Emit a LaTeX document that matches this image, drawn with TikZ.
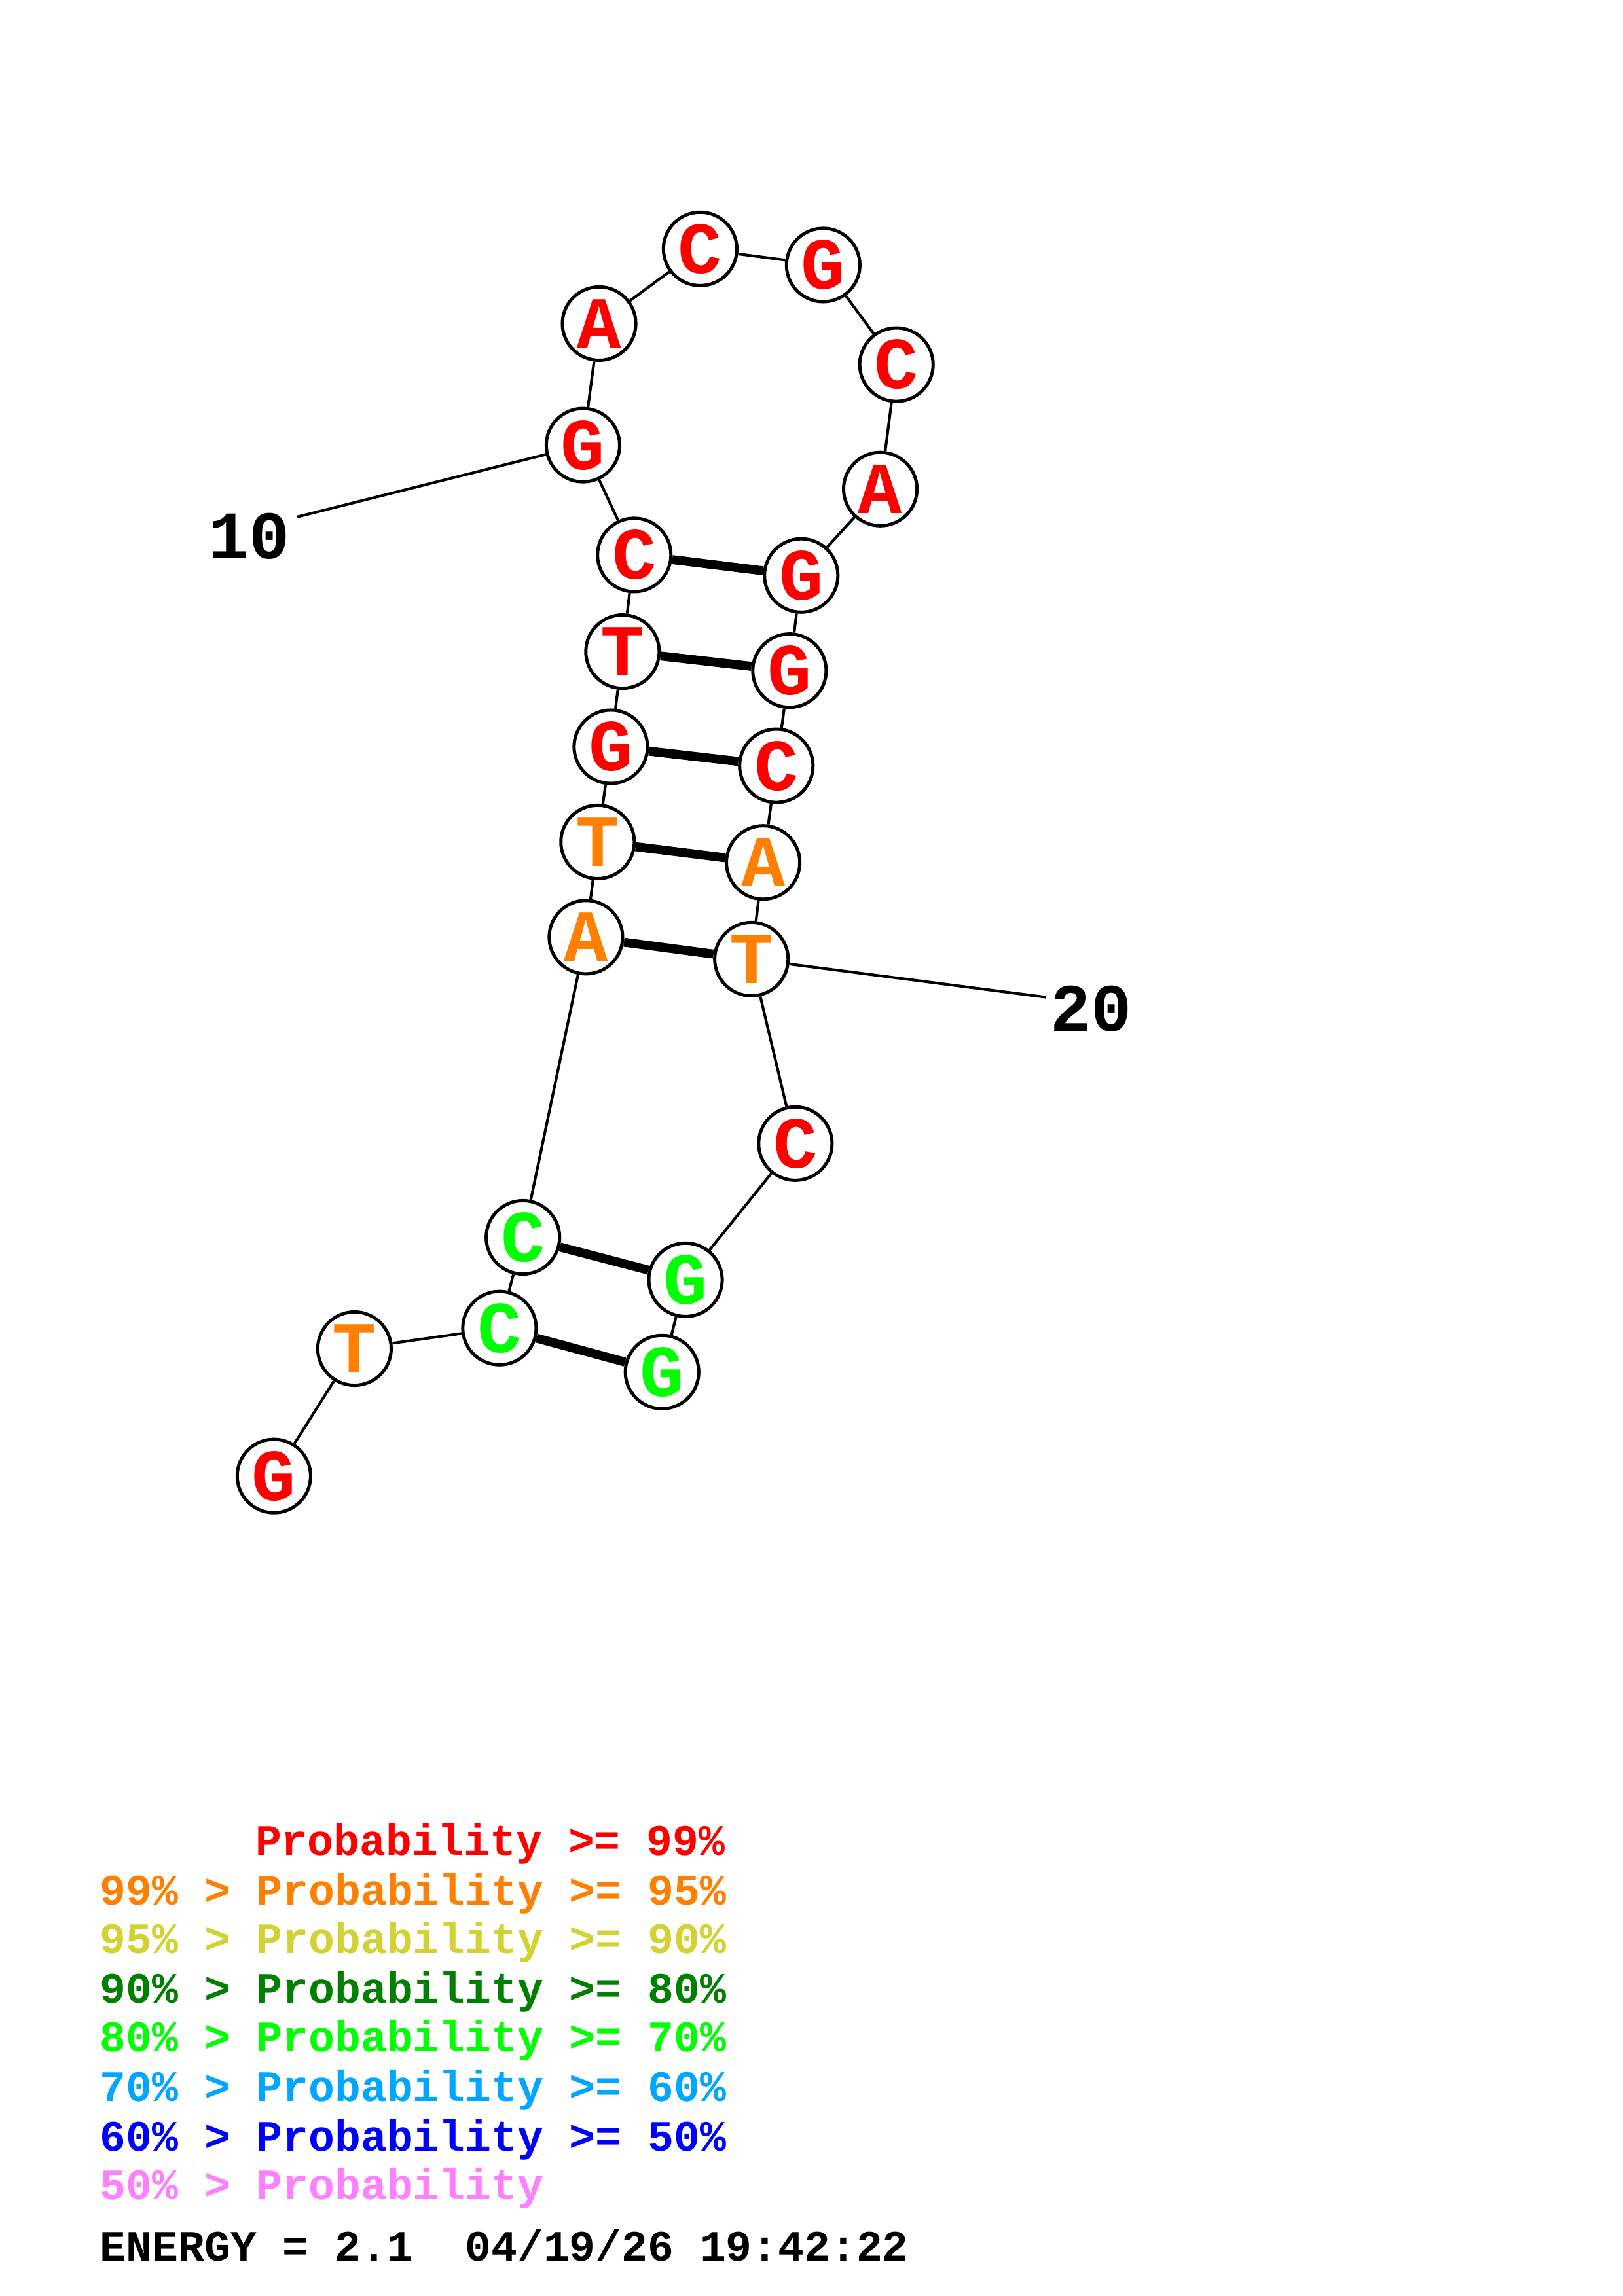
\documentclass[tikz,border=0pt]{standalone}
\usepackage{fontspec}
\setmonofont{Liberation Mono}
\usetikzlibrary{calc}

\definecolor{pred}{RGB}{255,0,0}
\definecolor{porange}{RGB}{255,128,0}
\definecolor{pyellow}{RGB}{210,210,50}
\definecolor{pdkgreen}{RGB}{0,128,0}
\definecolor{pgreen}{RGB}{0,255,0}
\definecolor{pltblue}{RGB}{0,166,255}
\definecolor{pblue}{RGB}{0,0,255}
\definecolor{ppink}{RGB}{255,128,255}

\begin{document}
\begin{tikzpicture}[x=0.018953cm, y=-0.018953cm,
		base/.style={circle, draw, line width=1.2pt, fill=white, minimum size=0.95cm, inner sep=0pt, font=\ttfamily\bfseries\fontsize{27}{27}\selectfont},
		bb/.style={line width=1pt},
		bp/.style={line width=3.3pt},
		idx/.style={inner sep=0pt, font=\ttfamily\bfseries\fontsize{25}{25}\selectfont},
		legend/.style={anchor=base west, inner sep=0pt, font=\ttfamily\bfseries\fontsize{16}{16}\selectfont}]
			\useasboundingbox (0,0) rectangle (1108,1568);

			% bases
			\node[base, text=pred] (n1) at (187,1008) {G};
			\node[base, text=porange] (n2) at (242,921) {T};
			\node[base, text=pgreen] (n3) at (341,907) {C};
			\node[base, text=pgreen] (n4) at (357,845) {C};
			\node[base, text=porange] (n5) at (400,640) {A};
			\node[base, text=porange] (n6) at (408,575) {T};
			\node[base, text=pred] (n7) at (417,510) {G};
			\node[base, text=pred] (n8) at (425,445) {T};
			\node[base, text=pred] (n9) at (433,379) {C};
			\node[base, text=pred] (n10) at (398,304) {G};
			\node[base, text=pred] (n11) at (409,221) {A};
			\node[base, text=pred] (n12) at (478,170) {C};
			\node[base, text=pred] (n13) at (562,181) {G};
			\node[base, text=pred] (n14) at (612,249) {C};
			\node[base, text=pred] (n15) at (601,334) {A};
			\node[base, text=pred] (n16) at (547,393) {G};
			\node[base, text=pred] (n17) at (539,458) {G};
			\node[base, text=pred] (n18) at (530,523) {C};
			\node[base, text=porange] (n19) at (521,589) {A};
			\node[base, text=porange] (n20) at (513,655) {T};
			\node[base, text=pred] (n21) at (543,781) {C};
			\node[base, text=pgreen] (n22) at (468,874) {G};
			\node[base, text=pgreen] (n23) at (452,937) {G};

			% backbone
			\foreach \i [count=\j from 2] in {1,...,22}
				\draw[bb] (n\i) -- (n\j);

			% pairs
			\draw[bp] (n3) -- (n23);
			\draw[bp] (n4) -- (n22);
			\draw[bp] (n5) -- (n20);
			\draw[bp] (n6) -- (n19);
			\draw[bp] (n7) -- (n18);
			\draw[bp] (n8) -- (n17);
			\draw[bp] (n9) -- (n16);

			% numbering
			\coordinate (t10) at (203,353);
			\coordinate (t20) at (714,681);
			\node[idx] (lab10) at (170,366) {10};
			\node[idx] (lab20) at (745,689) {20};
			\draw[bb] (n10) -- (t10);
			\draw[bb] (n20) -- (t20);

			% legend
			\node[legend, text=pred] (l1) at (174,1267) {Probability >= 99\%};
			\node[legend, text=porange] (l2) at (68,1301) {99\% > Probability >= 95\%};
			\node[legend, text=pyellow] (l3) at (68,1334) {95\% > Probability >= 90\%};
			\node[legend, text=pdkgreen] (l4) at (68,1368) {90\% > Probability >= 80\%};
			\node[legend, text=pgreen] (l5) at (68,1401) {80\% > Probability >= 70\%};
			\node[legend, text=pltblue] (l6) at (68,1435) {70\% > Probability >= 60\%};
			\node[legend, text=pblue] (l7) at (68,1469) {60\% > Probability >= 50\%};
			\node[legend, text=ppink] (l8) at (68,1502) {50\% > Probability};
			\node[legend] (energy) at (68,1544) {ENERGY = 2.1\ \ 04/19/26 19:42:22};
		\end{tikzpicture}
\end{document}
